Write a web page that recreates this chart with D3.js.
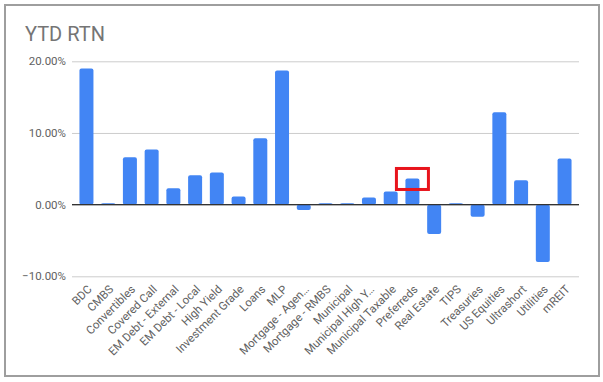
<!DOCTYPE html>
<html><head><meta charset="utf-8">
<script src="https://cdn.jsdelivr.net/npm/d3@7/dist/d3.min.js"></script>
<style>body{margin:0;background:#fff}svg{display:block;font-family:Roboto,Arial,sans-serif}</style>
</head><body><svg id="c" width="603" height="382"></svg>
<script>
const categories = ["BDC","CMBS","Convertibles","Covered Call","EM Debt - External","EM Debt - Local","High Yield","Investment Grade","Loans","MLP","Mortgage - Agen…","Mortgage - RMBS","Municipal","Municipal High Y…","Municipal Taxable","Preferreds","Real Estate","TIPS","Treasuries","US Equities","Ultrashort","Utilities","mREIT"];
const values = [0.19,0.002,0.066,0.077,0.023,0.041,0.045,0.0115,0.0925,0.187,-0.0075,0.002,0.002,0.01,0.0185,0.0365,-0.041,0.002,-0.017,0.129,0.034,-0.08,0.0645];
const tickValues = [-0.1,0,0.1,0.2];
const highlight = "Preferreds";

const svg = d3.select("#c");
svg.append("rect").attr("x",5).attr("y",5).attr("width",594).attr("height",371)
  .attr("fill","#fff").attr("stroke","#9e9e9e").attr("stroke-width",2);
svg.append("text").attr("x",25).attr("y",41).attr("font-size",20).attr("fill","#757575").text("YTD RTN");

const x = d3.scaleBand().domain(categories).range([72,579]).paddingInner(0.356).paddingOuter(0.343);
const y = d3.scaleLinear().domain([-0.1,0.2]).range([276.3,61.3]);

const yAxis = svg.append("g").attr("transform","translate(72,0)")
  .call(d3.axisLeft(y).tickValues(tickValues).tickSize(-507).tickFormat(d3.format(".2%")));
yAxis.select(".domain").remove();
yAxis.selectAll(".tick line").attr("stroke","#cccccc");
yAxis.selectAll(".tick text").attr("x",-6).attr("font-size",11.5).attr("fill","#616161").attr("font-family","Roboto, Arial, sans-serif");

svg.append("g").selectAll("rect").data(categories).join("rect")
  .attr("x",d=>x(d)).attr("width",x.bandwidth())
  .attr("y",(d,i)=>y(Math.max(0,values[i])))
  .attr("height",(d,i)=>Math.max(1,Math.abs(y(values[i])-y(0))))
  .attr("rx",2).attr("fill","#4285f4");

svg.append("line").attr("x1",72).attr("x2",579).attr("y1",y(0)).attr("y2",y(0)).attr("stroke","#333").attr("stroke-width",1.2);

svg.append("g").selectAll("text").data(categories).join("text")
  .attr("transform",d=>`translate(${x(d)+x.bandwidth()/2+6},${290}) rotate(-45)`)
  .attr("text-anchor","end").attr("font-size",11.5).attr("fill","#616161").text(d=>d);

const hi = categories.indexOf(highlight);
svg.append("rect").attr("x",x(highlight)-9).attr("width",x.bandwidth()+18)
  .attr("y",y(values[hi])-10).attr("height",21)
  .attr("fill","none").attr("stroke","#e8141c").attr("stroke-width",3);
</script></body></html>
